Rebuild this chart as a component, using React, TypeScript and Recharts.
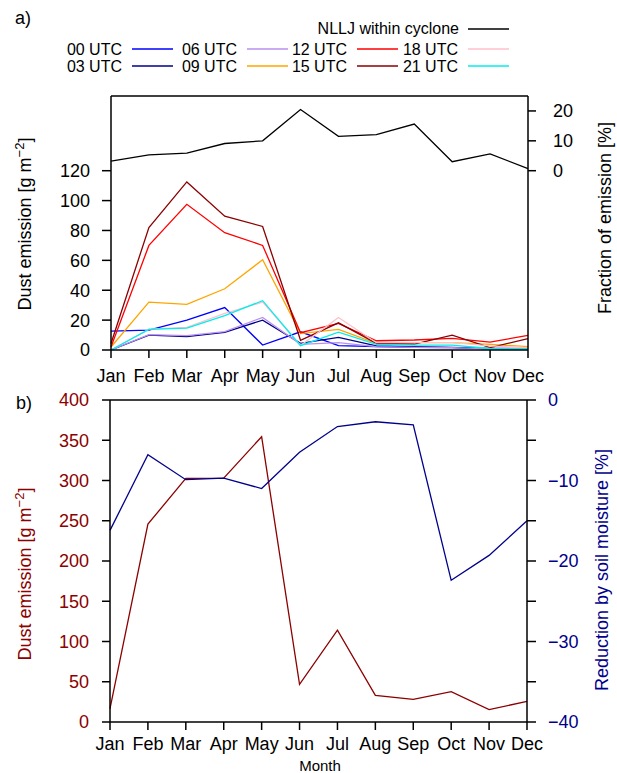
import React from 'react';
import { LineChart, Line, XAxis, YAxis } from 'recharts';

const months = ['Jan', 'Feb', 'Mar', 'Apr', 'May', 'Jun', 'Jul', 'Aug', 'Sep', 'Oct', 'Nov', 'Dec'];

// panel a) dust emission per time of day [g m-2]
const utc00 = [12.7, 13.3, 20, 28.4, 3.3, 12.2, 2.9, 2.2, 1.8, 1.6, 1.1, 0.9];
const utc03 = [0, 10, 8.9, 11.8, 20, 4.5, 8.4, 2.7, 2.2, 1.8, 0.7, 0.4];
const utc06 = [0, 10.3, 9.6, 12.3, 21.8, 3.8, 5, 2.2, 1.8, 1.6, 0.7, 0.4];
const utc09 = [2, 32, 30.5, 41, 60.4, 11, 13.8, 4.4, 5, 5, 3.8, 2.2];
const utc12 = [2, 70, 97.5, 78.5, 70, 11.6, 17.8, 6.2, 6.7, 7.8, 5.3, 9.8];
const utc15 = [4.4, 82, 112.5, 89.6, 82.7, 6.5, 18.2, 4.4, 4, 10, 1.6, 7.6];
const utc18 = [0, 14, 15.2, 24.5, 32, 3, 21.8, 4.9, 5, 5, 2.7, 1.6];
const utc21 = [0, 13.8, 14.7, 23, 33, 2.9, 12, 3.8, 3.3, 3.3, 1, 0.9];
// fraction of emission from NLLJ within cyclone [%]
const nllj = [3.2, 5.3, 5.9, 9.1, 10, 20.5, 11.5, 12.1, 15.6, 3.0, 5.6, 0.7];

// panel b)
const dustTotal = [16.6, 245.8, 302.6, 303, 354.4, 46.8, 114, 33.2, 28.2, 37.7, 15.3, 25.7];
const soilReduction = [-16.2, -6.8, -9.9, -9.7, -11.0, -6.5, -3.3, -2.7, -3.1, -22.4, -19.3, -15.0];

const leftTicksA = [0, 20, 40, 60, 80, 100, 120];
const rightTicksA = [0, 10, 20];
const leftTicksB = [0, 50, 100, 150, 200, 250, 300, 350, 400];
const rightTicksB = [0, -5, -10, -15, -20, -25, -30, -35, -40];

const series = [
  { key: 'utc00', name: '00 UTC', color: '#0000ff', values: utc00 },
  { key: 'utc03', name: '03 UTC', color: '#00008b', values: utc03 },
  { key: 'utc06', name: '06 UTC', color: '#b891ee', values: utc06 },
  { key: 'utc09', name: '09 UTC', color: '#ffa500', values: utc09 },
  { key: 'utc12', name: '12 UTC', color: '#ff0000', values: utc12 },
  { key: 'utc15', name: '15 UTC', color: '#8b0000', values: utc15 },
  { key: 'utc18', name: '18 UTC', color: '#ffc0cb', values: utc18 },
  { key: 'utc21', name: '21 UTC', color: '#00eeee', values: utc21 },
];

const topData = months.map((m, i) => {
  const row: any = { month: m, nllj: nllj[i] };
  series.forEach(s => { row[s.key] = s.values[i]; });
  return row;
});

const bottomData = months.map((m, i) => ({
  month: m,
  dust: dustTotal[i],
  soil: soilReduction[i],
}));

const FONT = '"Liberation Sans", Arial, Helvetica, sans-serif';
const DARK_RED = '#8b0000';
const DARK_BLUE = '#00008b';
const axisLine = { stroke: '#000', strokeWidth: 1.5 };

const minus = (v: number) => (v < 0 ? `\u2212${Math.abs(v)}` : `${v}`);

// legend layout: [text right edge, line start] per column
const legendCols = [
  [122, 132],
  [237, 247],
  [347, 357],
  [458, 468],
];

const Overlay = () => (
  <svg
    width={617}
    height={773}
    style={{ position: 'absolute', left: 0, top: 0, pointerEvents: 'none' }}
    fontFamily={FONT}
  >
    <text x={15} y={24} fontSize={18}>a)</text>
    <text x={16} y={409} fontSize={18}>b)</text>

    <text x={459} y={34} fontSize={16} textAnchor="end">NLLJ  within cyclone</text>
    <line x1={468} x2={509} y1={29} y2={29} stroke="#000" strokeWidth={1.3} />
    {series.map((s, i) => {
      const col = legendCols[Math.floor(i / 2)];
      const y = i % 2 === 0 ? 49 : 66;
      return (
        <g key={s.key}>
          <text x={col[0]} y={y + 6} fontSize={16} textAnchor="end">{s.name}</text>
          <line x1={col[1]} x2={col[1] + 41} y1={y} y2={y} stroke={s.color} strokeWidth={1.3} />
        </g>
      );
    })}

    <text transform="translate(31,224) rotate(-90)" fontSize={18} textAnchor="middle">
      Dust emission [g m<tspan dy={-7} fontSize={13}>−2</tspan><tspan dy={7}>]</tspan>
    </text>
    <text transform="translate(611,218) rotate(-90)" fontSize={18} textAnchor="middle">
      Fraction of emission [%]
    </text>
    <text transform="translate(31,574) rotate(-90)" fontSize={18} textAnchor="middle" fill={DARK_RED}>
      Dust emission [g m<tspan dy={-7} fontSize={13}>−2</tspan><tspan dy={7}>]</tspan>
    </text>
    <text transform="translate(608,570) rotate(-90)" fontSize={18} textAnchor="middle" fill={DARK_BLUE}>
      Reduction by soil moisture [%]
    </text>
    <text x={320} y={771} fontSize={15} textAnchor="middle">Month</text>
  </svg>
);

const App = () => {
  return (
    <div style={{ position: 'absolute', left: 0, top: 0, width: 617, height: 773, background: '#fff' }}>
      <div style={{ position: 'absolute', left: 0, top: 0 }}>
        <LineChart width={617} height={400} data={topData} margin={{ top: 88, right: 0, bottom: 0, left: 0 }}>
          <XAxis
            dataKey="month"
            interval={0}
            height={50}
            tickSize={8}
            tickMargin={11}
            axisLine={axisLine}
            tickLine={axisLine}
            tick={{ fill: '#000', fontSize: 18, fontFamily: FONT }}
          />
          <XAxis
            xAxisId="top"
            orientation="top"
            dataKey="month"
            interval={0}
            height={8}
            tickSize={8}
            axisLine={axisLine}
            tickLine={axisLine}
            tick={false}
          />
          <YAxis
            yAxisId="left"
            domain={[0, 170]}
            ticks={leftTicksA}
            width={111}
            tickSize={9}
            tickMargin={12}
            axisLine={axisLine}
            tickLine={axisLine}
            tick={{ fill: '#000', fontSize: 18, fontFamily: FONT }}
          />
          <YAxis
            yAxisId="right"
            orientation="right"
            domain={[-60, 25]}
            ticks={rightTicksA}
            width={89}
            tickSize={8}
            tickMargin={17}
            axisLine={axisLine}
            tickLine={axisLine}
            tick={{ fill: '#000', fontSize: 18, fontFamily: FONT }}
          />
          {series.map(s => (
            <Line
              key={s.key}
              yAxisId="left"
              dataKey={s.key}
              stroke={s.color}
              strokeWidth={1.3}
              dot={false}
              type="linear"
              isAnimationActive={false}
            />
          ))}
          <Line
            yAxisId="right"
            dataKey="nllj"
            stroke="#000"
            strokeWidth={1.3}
            dot={false}
            type="linear"
            isAnimationActive={false}
          />
        </LineChart>
      </div>

      <div style={{ position: 'absolute', left: 0, top: 380 }}>
        <LineChart width={617} height={393} data={bottomData} margin={{ top: 12, right: 0, bottom: 0, left: 0 }}>
          <XAxis
            dataKey="month"
            interval={0}
            height={51}
            tickSize={8}
            tickMargin={7}
            axisLine={axisLine}
            tickLine={axisLine}
            tick={{ fill: '#000', fontSize: 18, fontFamily: FONT }}
          />
          <XAxis
            xAxisId="top"
            orientation="top"
            dataKey="month"
            interval={0}
            height={8}
            tickSize={8}
            axisLine={axisLine}
            tickLine={axisLine}
            tick={false}
          />
          <YAxis
            yAxisId="left"
            domain={[0, 400]}
            ticks={leftTicksB}
            width={110}
            tickSize={8}
            tickMargin={13}
            axisLine={axisLine}
            tickLine={axisLine}
            tick={{ fill: DARK_RED, fontSize: 18, fontFamily: FONT }}
          />
          <YAxis
            yAxisId="right"
            orientation="right"
            domain={[-40, 0]}
            ticks={rightTicksB}
            width={90}
            tickSize={9}
            tickMargin={12}
            tickFormatter={(v: number) => (v % 10 === 0 ? minus(v) : '')}
            axisLine={axisLine}
            tickLine={axisLine}
            tick={{ fill: DARK_BLUE, fontSize: 18, fontFamily: FONT }}
          />
          <Line
            yAxisId="left"
            dataKey="dust"
            stroke={DARK_RED}
            strokeWidth={1.3}
            dot={false}
            type="linear"
            isAnimationActive={false}
          />
          <Line
            yAxisId="right"
            dataKey="soil"
            stroke={DARK_BLUE}
            strokeWidth={1.3}
            dot={false}
            type="linear"
            isAnimationActive={false}
          />
        </LineChart>
      </div>

      <Overlay />
    </div>
  );
};

export default App;
